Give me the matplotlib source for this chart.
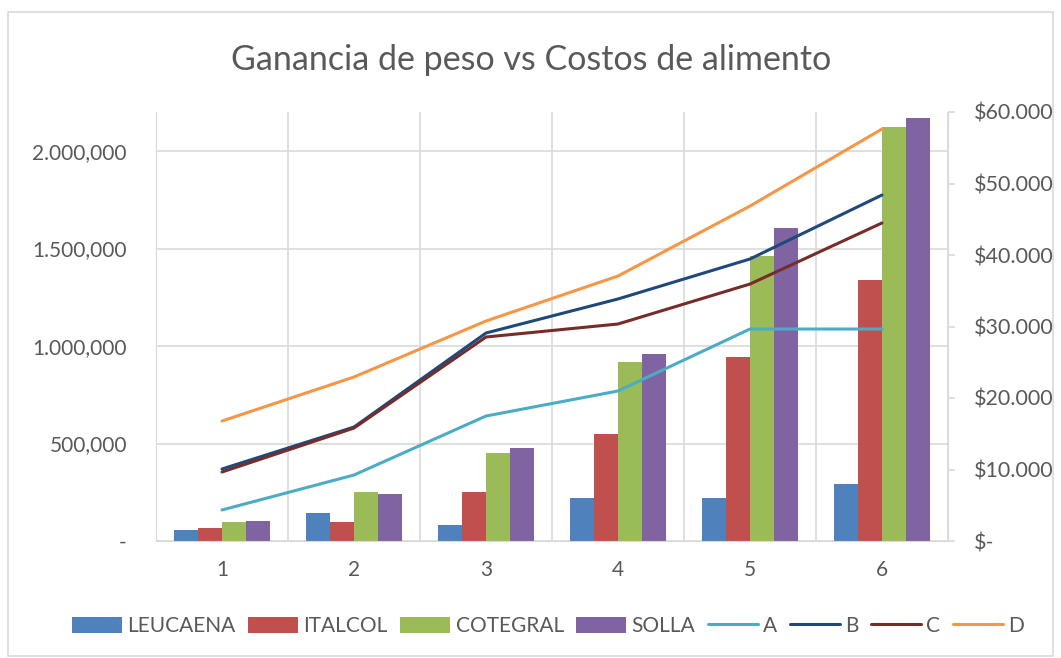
import numpy as np
import matplotlib
matplotlib.use("Agg")
import matplotlib.pyplot as plt
from matplotlib.ticker import FuncFormatter, MultipleLocator
from matplotlib.patches import Rectangle

plt.rcParams['font.family'] = ['Lato', 'DejaVu Sans']

categories = [1, 2, 3, 4, 5, 6]

# bars (left axis)
leucaena = [56000, 144000, 82000, 221000, 221000, 293000]
italcol = [67000, 98000, 252000, 550000, 945000, 1341000]
cotegral = [98000, 252000, 452000, 920000, 1459000, 2122000]
solla = [103000, 241000, 478000, 961000, 1603000, 2168000]

# lines (right axis)
a_cost = [4340, 9230, 17480, 20980, 29650, 29650]
b_cost = [10070, 15940, 29090, 33850, 39440, 48390]
c_cost = [9650, 15800, 28530, 30350, 35940, 44480]
d_cost = [16780, 22940, 30770, 37060, 46850, 57620]

bar_series = [("LEUCAENA", leucaena, "#4f81bd"),
              ("ITALCOL", italcol, "#c0504d"),
              ("COTEGRAL", cotegral, "#9bbb59"),
              ("SOLLA", solla, "#8064a2")]
line_series = [("A", a_cost, "#4bacc6"),
               ("B", b_cost, "#1f497d"),
               ("C", c_cost, "#772c2a"),
               ("D", d_cost, "#f79646")]

fig = plt.figure(figsize=(10.61, 6.58), dpi=100)
ax = fig.add_axes([156/1061, 1-541/658, (948-156)/1061, (541-112)/658])
ax2 = ax.twinx()

x = np.arange(len(categories)) + 1
w = 0.182
for i, (name, vals, col) in enumerate(bar_series):
    ax.bar(x + (i - 1.5) * w, vals, w, color=col, label=name, zorder=2)

for name, vals, col in line_series:
    ax2.plot(x, vals, color=col, lw=2.2, label=name, solid_capstyle='round')

ax.set_xlim(0.5, 6.5)
ax.set_ylim(0, 2200000)
ax2.set_ylim(0, 60000)
ax.yaxis.set_major_locator(MultipleLocator(500000))
ax2.yaxis.set_major_locator(MultipleLocator(10000))

def left_fmt(v, pos):
    if v == 0:
        return "-"
    s = f"{v:,.0f}"
    if s.count(",") == 2:
        s = s.replace(",", ".", 1)
    return s

def right_fmt(v, pos):
    if v == 0:
        return "$-"
    return "$" + f"{v:,.0f}".replace(",", ".")

ax.yaxis.set_major_formatter(FuncFormatter(left_fmt))
ax2.yaxis.set_major_formatter(FuncFormatter(right_fmt))
ax.set_xticks(x)
ax.set_xticklabels([str(c) for c in categories])

grid_col = "#d9d9d9"
ax.grid(axis='y', color=grid_col, lw=1.2, zorder=0)
for b in np.arange(0.5, 7, 1):
    ax.axvline(b, color=grid_col, lw=1.2, zorder=0)
ax.set_axisbelow(True)

for a in (ax, ax2):
    for s in a.spines.values():
        s.set_visible(False)
ax.spines['left'].set_visible(True)
ax.spines['left'].set_color(grid_col)
ax.spines['bottom'].set_visible(True)
ax.spines['bottom'].set_color(grid_col)
ax2.spines['right'].set_visible(True)
ax2.spines['right'].set_color(grid_col)

ax.tick_params(axis='y', colors="#595959", labelsize=15, length=0, pad=21)
ax.tick_params(axis='x', colors="#595959", labelsize=15, length=0, pad=14)
ax2.tick_params(axis='y', colors=grid_col, labelcolor="#595959", labelsize=15.5,
                length=5, width=1.2, pad=14)

fig.text(531/1061, 1-60/658, "Ganancia de peso vs Costos de alimento",
         ha='center', va='center', fontsize=24.5, color="#595959")

h1, l1 = ax.get_legend_handles_labels()
h2, l2 = ax2.get_legend_handles_labels()
fig.legend(h1 + h2, l1 + l2, loc='center', bbox_to_anchor=(548/1061, 1-626/658),
           ncol=8, frameon=False, fontsize=15, labelcolor="#595959",
           handlelength=2.4, handleheight=0.8, handletextpad=0.25,
           columnspacing=0.6)

fig.patches.append(Rectangle((8/1061, 0.003), 1-16/1061, 1-14/658,
                             transform=fig.transFigure, fill=False,
                             edgecolor=grid_col, lw=1.2))

fig.savefig("out.png", dpi=100)
